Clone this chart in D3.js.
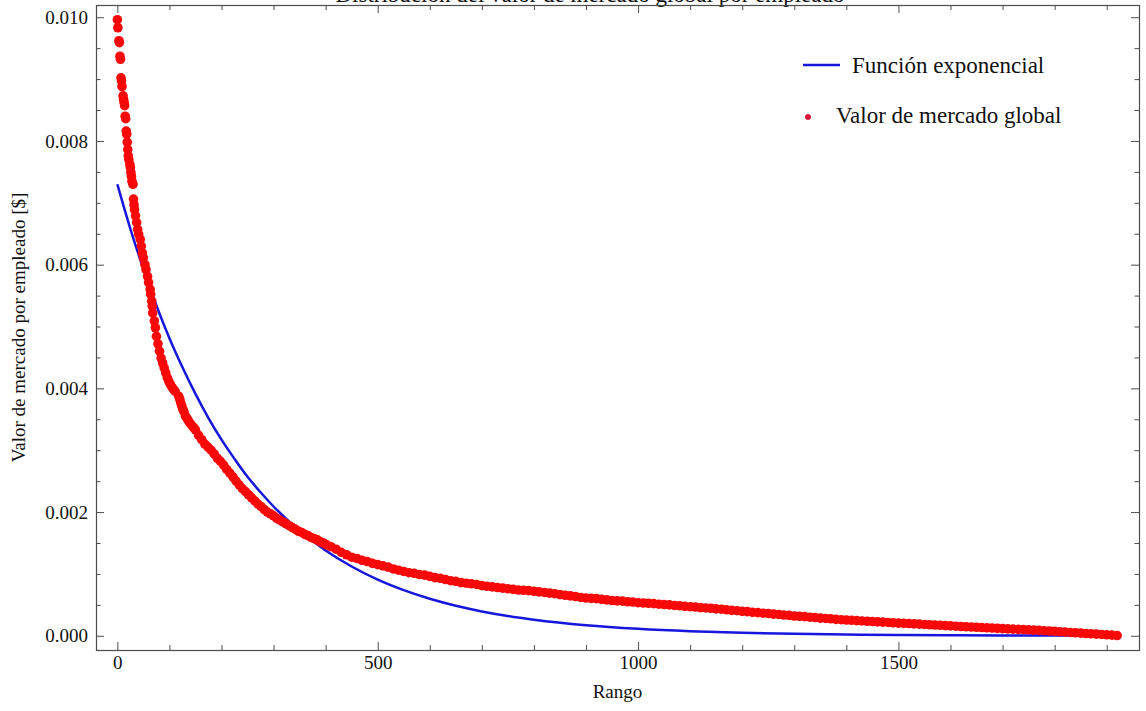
<!DOCTYPE html>
<html>
<head>
<meta charset="utf-8">
<script src="https://cdn.jsdelivr.net/npm/d3@7"></script>
<style>
  body { margin: 0; background: #fff; }
  svg { display: block; }
  text { font-family: "Liberation Serif", "Times New Roman", serif; fill: #111; }
</style>
</head>
<body>
<svg id="chart" width="1146" height="711"></svg>
<script>
// Valor de mercado global por empleado: [rango, valor]
const valorGlobal = [
  [0, 9.96e-3], [1, 9.83e-3], [3, 9.62e-3], [4, 9.59e-3], [5, 9.37e-3], [6, 9.32e-3],
  [7, 9.02e-3], [8, 8.97e-3], [9, 8.88e-3], [11, 8.73e-3], [12, 8.67e-3], [13, 8.62e-3],
  [14, 8.57e-3], [15, 8.40e-3], [16, 8.36e-3], [17, 8.16e-3], [18, 8.11e-3], [19, 7.98e-3],
  [20, 7.86e-3], [21, 7.76e-3], [22, 7.70e-3], [24, 7.62e-3], [25, 7.57e-3], [26, 7.49e-3],
  [27, 7.43e-3], [28, 7.35e-3], [30, 7.30e-3], [31, 7.06e-3], [32, 6.97e-3], [33, 6.89e-3],
  [35, 6.79e-3], [37, 6.68e-3], [39, 6.57e-3], [41, 6.49e-3], [44, 6.41e-3], [46, 6.30e-3],
  [48, 6.19e-3], [50, 6.11e-3], [53, 6.00e-3], [55, 5.92e-3], [58, 5.81e-3], [60, 5.71e-3],
  [63, 5.60e-3], [64, 5.52e-3], [66, 5.41e-3], [67, 5.33e-3], [68, 5.22e-3], [71, 5.09e-3],
  [73, 4.98e-3], [75, 4.84e-3], [78, 4.72e-3], [81, 4.60e-3], [84, 4.49e-3], [87, 4.41e-3],
  [90, 4.33e-3], [93, 4.25e-3], [96, 4.17e-3], [99, 4.11e-3], [102, 4.06e-3], [105, 4.02e-3],
  [108, 3.98e-3], [111, 3.95e-3], [118, 3.87e-3], [120, 3.82e-3], [122, 3.76e-3], [124, 3.71e-3],
  [126, 3.66e-3], [128, 3.62e-3], [131, 3.55e-3], [134, 3.51e-3], [137, 3.47e-3], [140, 3.43e-3],
  [144, 3.39e-3], [147, 3.36e-3], [150, 3.33e-3], [156, 3.24e-3], [162, 3.17e-3],
  [168, 3.10e-3], [174, 3.05e-3], [180, 3.00e-3], [186, 2.94e-3], [192, 2.87e-3], [198, 2.82e-3],
  [204, 2.76e-3], [210, 2.69e-3], [216, 2.63e-3], [222, 2.57e-3], [228, 2.50e-3], [234, 2.44e-3],
  [240, 2.38e-3], [246, 2.33e-3], [252, 2.28e-3], [258, 2.23e-3], [264, 2.18e-3], [270, 2.13e-3],
  [276, 2.09e-3], [282, 2.04e-3], [288, 2.00e-3], [294, 1.97e-3], [300, 1.94e-3], [306, 1.90e-3],
  [312, 1.87e-3], [318, 1.84e-3], [324, 1.81e-3], [330, 1.78e-3], [336, 1.75e-3], [342, 1.72e-3],
  [348, 1.69e-3], [354, 1.67e-3], [360, 1.64e-3], [366, 1.62e-3], [372, 1.59e-3], [378, 1.57e-3],
  [384, 1.55e-3], [390, 1.52e-3], [396, 1.50e-3], [402, 1.47e-3],
  [410, 1.44e-3], [420, 1.40e-3], [430, 1.35e-3], [440, 1.31e-3], [450, 1.27e-3], [460, 1.25e-3],
  [470, 1.22e-3], [480, 1.20e-3], [490, 1.17e-3], [500, 1.15e-3], [510, 1.13e-3], [520, 1.11e-3],
  [530, 1.08e-3], [540, 1.06e-3], [550, 1.04e-3], [560, 1.02e-3], [570, 1.01e-3], [580, 0.99e-3],
  [590, 0.98e-3], [600, 0.96e-3], [610, 0.94e-3], [620, 0.93e-3], [630, 0.91e-3], [640, 0.89e-3],
  [650, 0.88e-3], [660, 0.86e-3], [670, 0.85e-3], [680, 0.84e-3], [690, 0.83e-3], [700, 0.81e-3],
  [710, 0.80e-3], [720, 0.79e-3], [730, 0.78e-3], [740, 0.77e-3], [750, 0.76e-3], [760, 0.75e-3],
  [770, 0.74e-3], [780, 0.735e-3], [790, 0.73e-3], [800, 0.72e-3], [810, 0.71e-3], [820, 0.70e-3],
  [830, 0.69e-3], [840, 0.68e-3], [850, 0.665e-3], [860, 0.655e-3], [870, 0.645e-3], [880, 0.635e-3],
  [890, 0.62e-3], [900, 0.61e-3], [910, 0.605e-3], [920, 0.60e-3], [930, 0.59e-3], [940, 0.58e-3],
  [950, 0.57e-3], [960, 0.565e-3], [970, 0.56e-3], [980, 0.55e-3], [990, 0.545e-3], [1000, 0.535e-3],
  [1010, 0.53e-3], [1020, 0.525e-3], [1030, 0.52e-3], [1040, 0.51e-3], [1050, 0.505e-3], [1060, 0.50e-3],
  [1070, 0.49e-3], [1080, 0.485e-3], [1090, 0.475e-3], [1100, 0.47e-3], [1110, 0.465e-3], [1120, 0.455e-3],
  [1130, 0.45e-3], [1140, 0.445e-3], [1150, 0.435e-3], [1160, 0.43e-3], [1170, 0.42e-3], [1180, 0.41e-3],
  [1190, 0.405e-3], [1200, 0.395e-3], [1210, 0.39e-3], [1220, 0.38e-3], [1230, 0.375e-3], [1240, 0.365e-3],
  [1250, 0.36e-3], [1260, 0.35e-3], [1270, 0.345e-3], [1280, 0.335e-3], [1290, 0.33e-3], [1300, 0.32e-3],
  [1310, 0.315e-3], [1320, 0.31e-3], [1330, 0.30e-3], [1340, 0.295e-3], [1350, 0.285e-3], [1360, 0.28e-3],
  [1370, 0.275e-3], [1380, 0.265e-3], [1390, 0.26e-3], [1400, 0.255e-3], [1410, 0.25e-3], [1420, 0.245e-3],
  [1430, 0.24e-3], [1440, 0.235e-3], [1450, 0.23e-3], [1460, 0.225e-3], [1470, 0.22e-3], [1480, 0.215e-3],
  [1490, 0.21e-3], [1500, 0.205e-3], [1510, 0.20e-3], [1520, 0.198e-3], [1530, 0.193e-3], [1540, 0.188e-3],
  [1550, 0.183e-3], [1560, 0.178e-3], [1570, 0.174e-3], [1580, 0.169e-3], [1590, 0.164e-3], [1600, 0.16e-3],
  [1610, 0.155e-3], [1620, 0.15e-3], [1630, 0.146e-3], [1640, 0.142e-3], [1650, 0.138e-3], [1660, 0.133e-3],
  [1670, 0.129e-3], [1680, 0.125e-3], [1690, 0.12e-3], [1700, 0.116e-3], [1710, 0.112e-3], [1720, 0.108e-3],
  [1730, 0.104e-3], [1740, 0.10e-3], [1750, 0.095e-3], [1760, 0.091e-3], [1770, 0.087e-3], [1780, 0.082e-3],
  [1790, 0.077e-3], [1800, 0.071e-3], [1810, 0.066e-3], [1820, 0.06e-3], [1830, 0.054e-3], [1840, 0.049e-3],
  [1850, 0.043e-3], [1860, 0.037e-3], [1870, 0.032e-3], [1880, 0.027e-3], [1890, 0.021e-3], [1900, 0.016e-3],
  [1910, 0.01e-3], [1920, 0.004e-3]
];

// Funcion exponencial ajustada: [rango, valor]
const funcionExp = [
  [0, 7.30e-3], [25, 6.58e-3], [50, 5.93e-3], [75, 5.34e-3], [100, 4.81e-3], [125, 4.34e-3],
  [150, 3.91e-3], [175, 3.52e-3], [200, 3.17e-3], [225, 2.86e-3], [250, 2.57e-3], [275, 2.32e-3],
  [300, 2.09e-3], [350, 1.70e-3], [400, 1.38e-3], [450, 1.12e-3], [500, 0.907e-3], [550, 0.737e-3],
  [600, 0.598e-3], [650, 0.485e-3], [700, 0.394e-3], [750, 0.320e-3], [800, 0.260e-3], [900, 0.171e-3],
  [1000, 0.113e-3], [1100, 0.074e-3], [1200, 0.049e-3], [1300, 0.032e-3], [1400, 0.021e-3],
  [1500, 0.014e-3], [1600, 0.009e-3], [1700, 0.006e-3], [1800, 0.004e-3], [1920, 0.002e-3]
];

const xTicks = [0, 500, 1000, 1500];
const xMinor = [100, 200, 300, 400, 600, 700, 800, 900, 1100, 1200, 1300, 1400, 1600, 1700, 1800, 1900];
const yTicks = [0, 0.002, 0.004, 0.006, 0.008, 0.010];
const yMinor = [0.0005, 0.001, 0.0015, 0.0025, 0.003, 0.0035, 0.0045, 0.005, 0.0055,
                0.0065, 0.007, 0.0075, 0.0085, 0.009, 0.0095];
const leyenda = ["Función exponencial", "Valor de mercado global"];

const titulo = "Distribución del valor de mercado global por empleado";
const xLabel = "Rango";
const yLabel = "Valor de mercado por empleado [$]";

const frame = { left: 96, right: 1139, top: 5, bottom: 650 };
const lineColor = "#1616dc";
const dotColor = "#f80808";
const frameColor = "#4d4d4d";

const svg = d3.select("#chart");

const x = d3.scaleLinear().domain([-41, 1962]).range([frame.left, frame.right]);
const y = d3.scaleLinear().domain([-0.000230, 0.010198]).range([frame.bottom, frame.top]);

// title: in the original it sits almost entirely above the visible area
svg.append("text")
  .attr("x", 590)
  .attr("y", 2)
  .attr("text-anchor", "middle")
  .style("font-size", "23px")
  .text(titulo);

// frame ticks (inward), major + minor on all four sides
function styleAxis(g) {
  g.select(".domain").remove();
  g.selectAll("line").attr("stroke", frameColor);
  g.selectAll("text").style("font-size", "19px").attr("fill", "#111");
}

svg.append("g")
  .attr("transform", `translate(0,${frame.bottom})`)
  .call(d3.axisBottom(x).tickValues(xTicks).tickSizeInner(-8).tickSizeOuter(0).tickPadding(6).tickFormat(d3.format("d")))
  .call(styleAxis);
svg.append("g")
  .attr("transform", `translate(0,${frame.bottom})`)
  .call(d3.axisBottom(x).tickValues(xMinor).tickSizeInner(-5).tickSizeOuter(0).tickFormat(""))
  .call(styleAxis);
svg.append("g")
  .attr("transform", `translate(0,${frame.top})`)
  .call(d3.axisTop(x).tickValues(xTicks).tickSizeInner(-8).tickSizeOuter(0).tickFormat(""))
  .call(styleAxis);
svg.append("g")
  .attr("transform", `translate(0,${frame.top})`)
  .call(d3.axisTop(x).tickValues(xMinor).tickSizeInner(-5).tickSizeOuter(0).tickFormat(""))
  .call(styleAxis);

svg.append("g")
  .attr("transform", `translate(${frame.left},0)`)
  .call(d3.axisLeft(y).tickValues(yTicks).tickSizeInner(-8).tickSizeOuter(0).tickPadding(8).tickFormat(d3.format(".3f")))
  .call(styleAxis);
svg.append("g")
  .attr("transform", `translate(${frame.left},0)`)
  .call(d3.axisLeft(y).tickValues(yMinor).tickSizeInner(-4.5).tickSizeOuter(0).tickFormat(""))
  .call(styleAxis);
svg.append("g")
  .attr("transform", `translate(${frame.right},0)`)
  .call(d3.axisRight(y).tickValues(yTicks).tickSizeInner(-8).tickSizeOuter(0).tickFormat(""))
  .call(styleAxis);
svg.append("g")
  .attr("transform", `translate(${frame.right},0)`)
  .call(d3.axisRight(y).tickValues(yMinor).tickSizeInner(-4.5).tickSizeOuter(0).tickFormat(""))
  .call(styleAxis);

svg.append("rect")
  .attr("x", frame.left + 0.5)
  .attr("y", frame.top + 0.5)
  .attr("width", frame.right - frame.left)
  .attr("height", frame.bottom - frame.top)
  .attr("fill", "none")
  .attr("stroke", frameColor)
  .attr("stroke-width", 1.2);

// exponential fit
const line = d3.line()
  .x(d => x(d[0]))
  .y(d => y(d[1]))
  .curve(d3.curveMonotoneX);

svg.append("path")
  .datum(funcionExp)
  .attr("d", line)
  .attr("fill", "none")
  .attr("stroke", lineColor)
  .attr("stroke-width", 2.5);

// data points
svg.append("g")
  .selectAll("circle")
  .data(valorGlobal)
  .enter()
  .append("circle")
  .attr("cx", d => x(d[0]))
  .attr("cy", d => y(d[1]))
  .attr("r", 4.8)
  .attr("fill", dotColor);

// axis labels
svg.append("text")
  .attr("x", (frame.left + frame.right) / 2)
  .attr("y", 698)
  .attr("text-anchor", "middle")
  .style("font-size", "19px")
  .text(xLabel);

svg.append("text")
  .attr("transform", "rotate(-90)")
  .attr("x", -(frame.top + frame.bottom) / 2)
  .attr("y", 25)
  .attr("text-anchor", "middle")
  .style("font-size", "19px")
  .text(yLabel);

// legend
const legend = svg.append("g");
legend.append("line")
  .attr("x1", 803).attr("x2", 840)
  .attr("y1", 65).attr("y2", 65)
  .attr("stroke", lineColor)
  .attr("stroke-width", 2.5);
legend.append("text")
  .attr("x", 852).attr("y", 73)
  .style("font-size", "23px")
  .text(leyenda[0]);
legend.append("circle")
  .attr("cx", 808).attr("cy", 117)
  .attr("r", 3)
  .attr("fill", "#d8173f");
legend.append("text")
  .attr("x", 836).attr("y", 123)
  .style("font-size", "23px")
  .text(leyenda[1]);
</script>
</body>
</html>
